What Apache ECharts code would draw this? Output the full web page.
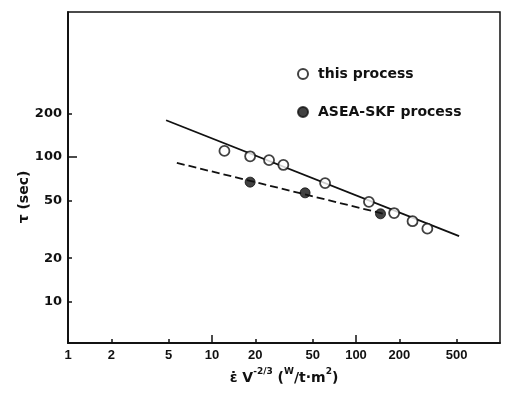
<!DOCTYPE html>
<html>
<head>
<meta charset="utf-8">
<script src="https://cdn.jsdelivr.net/npm/echarts@6/dist/echarts.min.js"></script>
<style>
  html, body { margin: 0; padding: 0; background: #fff; }
  #chart { width: 506px; height: 397px; }
</style>
</head>
<body>
<div id="chart"></div>
<script>
// (log-log)
const thisProcess = [[12.2, 110], [18.4, 101], [24.9, 95], [31.3, 88], [61, 66], [123, 49], [184, 41], [247, 36], [313, 32]]
const aseaProcess = [[18.4, 67], [44.3, 56.5], [148, 40.5]]
const thisFit = [[4.8, 179], [520, 28.4]]
const aseaFit = [[5.7, 91], [156, 40.5]]
const xTicks = [1, 2, 5, 10, 20, 50, 100, 200, 500]
const xLong = [10, 100]
const yTicks = [10, 20, 50, 100, 200]
const yLong = [100]

const ink = '#111'
const chart = echarts.init(document.getElementById('chart'))

function xAxisOf(ticks, len, labels) {
  return {
    type: 'log',
    logBase: 10,
    min: 1,
    max: 1000,
    position: 'bottom',
    axisLine: { lineStyle: { color: ink, width: 1.5 } },
    axisTick: { inside: true, length: len, customValues: ticks, lineStyle: { color: ink, width: 1.5 } },
    axisLabel: {
      show: labels,
      customValues: ticks,
      margin: 6,
      color: ink,
      fontFamily: 'Liberation Sans',
      fontWeight: 'bold',
      fontSize: 13
    },
    splitLine: { show: false }
  }
}

function yAxisOf(ticks, len, labels) {
  return {
    type: 'log',
    logBase: 10,
    min: 5.2,
    max: 1000,
    position: 'left',
    axisLine: { lineStyle: { color: ink, width: 1.5 } },
    axisTick: { inside: true, length: len, customValues: ticks, lineStyle: { color: ink, width: 1.5 } },
    axisLabel: {
      show: labels,
      customValues: ticks,
      margin: 6,
      color: ink,
      fontFamily: 'DejaVu Sans',
      fontWeight: 'bold',
      fontSize: 13
    },
    splitLine: { show: false }
  }
}

const option = {
  backgroundColor: '#fff',
  animation: false,
  grid: {
    left: 68,
    top: 12,
    width: 432,
    height: 331,
    show: true,
    borderColor: ink,
    borderWidth: 1.5
  },
  legend: {
    orient: 'vertical',
    left: 292,
    top: 62,
    itemGap: 24,
    itemWidth: 10,
    itemHeight: 10,
    icon: 'circle',
    textStyle: { color: ink, fontFamily: 'DejaVu Sans', fontWeight: 'bold', fontSize: 14, padding: [0, 0, 0, 5] },
    data: ['this process', 'ASEA-SKF process']
  },
  xAxis: [
    Object.assign(xAxisOf(xTicks, 4, true), {
      name: '{a|ε̇ V}{s|-2/3}{a| (}{s|W}{a|/t·m}{s|2}{a|)}',
      nameLocation: 'middle',
      nameGap: 23,
      nameTextStyle: {
        rich: {
          a: { fontFamily: 'DejaVu Sans', fontWeight: 'bold', fontSize: 14, color: ink, verticalAlign: 'bottom', lineHeight: 18 },
          s: { fontFamily: 'DejaVu Sans', fontWeight: 'bold', fontSize: 9, color: ink, verticalAlign: 'top', lineHeight: 18 }
        }
      }
    }),
    xAxisOf(xLong, 8, false)
  ],
  yAxis: [yAxisOf(yTicks, 4, true), yAxisOf(yLong, 9, false)],
  graphic: [
    {
      type: 'text',
      x: 24,
      y: 197,
      rotation: Math.PI / 2,
      style: {
        text: 'τ (sec)',
        fill: ink,
        font: 'bold 14px "DejaVu Sans"',
        align: 'center',
        verticalAlign: 'middle'
      }
    }
  ],
  series: [
    {
      type: 'line',
      data: thisFit,
      symbol: 'none',
      lineStyle: { color: ink, width: 1.8 },
      z: 1
    },
    {
      type: 'line',
      data: aseaFit,
      symbol: 'none',
      lineStyle: { color: ink, width: 1.8, type: [8, 4] },
      z: 1
    },
    {
      name: 'this process',
      type: 'scatter',
      data: thisProcess,
      symbol: 'circle',
      symbolSize: 10,
      itemStyle: { color: '#fff', borderColor: ink, borderWidth: 1.8 },
      z: 3
    },
    {
      name: 'ASEA-SKF process',
      type: 'scatter',
      data: aseaProcess,
      symbol: 'circle',
      symbolSize: 10,
      itemStyle: { color: ink, borderColor: ink, borderWidth: 1 },
      z: 3
    }
  ]
}

chart.setOption(option)
</script>
</body>
</html>
